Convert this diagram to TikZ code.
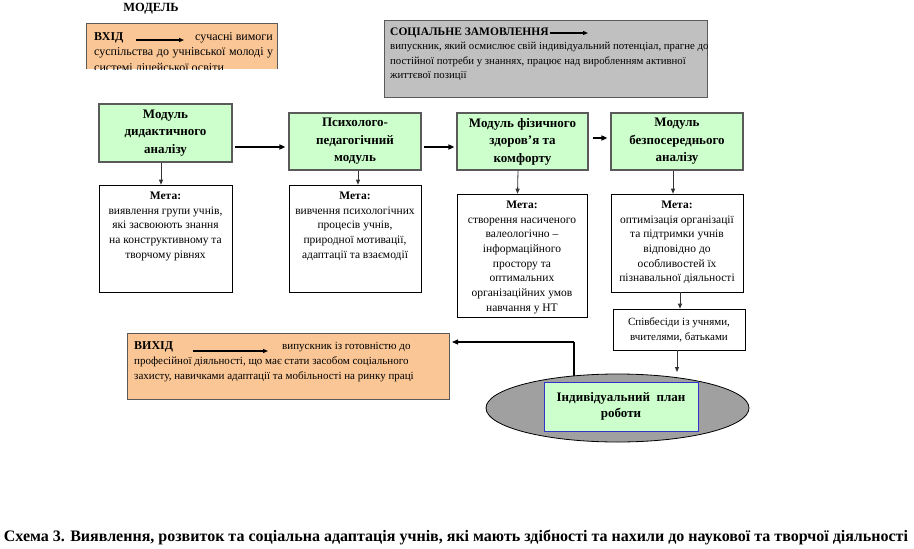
\documentclass[tikz,border=0pt]{standalone}
\usepackage{fontspec}
\setmainfont{Liberation Serif}
\usetikzlibrary{arrows.meta,calc,shapes.geometric}
\definecolor{orangefill}{RGB}{250,198,150}
\definecolor{grayfill}{RGB}{192,192,192}
\definecolor{greenfill}{RGB}{204,255,204}
\definecolor{ellfill}{RGB}{160,160,160}
\definecolor{edgegray}{RGB}{90,90,90}
\definecolor{innerblue}{RGB}{51,51,204}
\begin{document}
\begin{tikzpicture}[x=1pt,y=-1pt,
  modbox/.style={draw=edgegray,line width=1.2pt,fill=greenfill,inner sep=0pt,align=center,font=\fontsize{13}{17.5}\selectfont\bfseries},
  metabox/.style={draw=black,line width=0.6pt,fill=white,inner sep=0pt},
  metatext/.style={anchor=north,align=center,inner sep=0pt,font=\fontsize{11.5}{14.7}\selectfont},
  plain/.style={anchor=west,inner sep=0pt,font=\fontsize{11}{14}\selectfont},
  thickarr/.style={-{Triangle[length=6pt,width=5pt]},line width=1.6pt},
  downarr/.style={-{Triangle[length=5pt,width=4pt]},line width=0.8pt,draw=black!80},
  textarr/.style={-{Triangle[length=5pt,width=4pt]},line width=1.1pt}
]
\useasboundingbox (0,0) rectangle (914,549);
\fill[white] (0,0) rectangle (914,549);

% title
\node[inner sep=0pt,font=\fontsize{12.5}{14}\selectfont\bfseries] (title) at (151,9) {МОДЕЛЬ};

% input box
\node[fill=orangefill,minimum width=190pt,minimum height=45pt,inner sep=0pt] (inbox) at (182,46.5) {};
\draw[line width=0.8pt,edgegray] (inbox.south west) -- (inbox.north west) -- (inbox.north east) -- (inbox.south east);
\begin{scope}
\clip (inbox.south west) rectangle (inbox.north east);
\node[plain,anchor=base west,font=\fontsize{12}{14}\selectfont\bfseries] (intitle) at (94,40) {ВХІД};
\node[plain,anchor=base west,font=\fontsize{12}{14}\selectfont] (intext1) at (195,40) {сучасні вимоги};
\node[plain,anchor=base west,font=\fontsize{12}{14}\selectfont] (intext2) at (94,55.7) {\makebox[179pt][s]{суспільства до учнівської молоді у}};
\node[plain,anchor=base west,font=\fontsize{12}{14}\selectfont] (intext3) at (94,71.4) {системі ліцейської освіти};
\end{scope}
\coordinate (ia1) at (136,40);
\coordinate (ia2) at (184,40);
\draw[textarr] (ia1) -- (ia2);

% social order box
\node[draw=edgegray,line width=0.8pt,fill=grayfill,minimum width=323pt,minimum height=77pt,inner sep=0pt] (social) at (545.5,58.5) {};
\node[plain,font=\fontsize{11.5}{14}\selectfont\bfseries] (soctitle) at (390,33) {СОЦІАЛЬНЕ ЗАМОВЛЕННЯ};
\coordinate (sa1) at (550,33);
\coordinate (sa2) at (588,33);
\draw[textarr] (sa1) -- (sa2);
\node[plain,anchor=north west,align=left,font=\fontsize{10.8}{14.5}\selectfont] (soctext) at (390,42) {випускник, який осмислює свій індивідуальний потенціал, прагне до\\постійної потреби у знаннях, працює над виробленням активної\\життєвої позиції};

% modules
\node[modbox,minimum width=133pt,minimum height=58pt] (m1) at (165.5,133) {Модуль\\дидактичного\\аналізу};
\node[modbox,minimum width=132pt,minimum height=57pt] (m2) at (355,141.5) {Психолого-\\педагогічний\\модуль};
\node[modbox,minimum width=131pt,minimum height=57pt] (m3) at (522.5,141.5) {Модуль фізичного\\здоров’я та\\комфорту};
\node[modbox,minimum width=132pt,minimum height=57pt] (m4) at (677,141.5) {Модуль\\безпосереднього\\аналізу};

\draw[thickarr] ([xshift=2pt,yshift=-14pt]m1.east) -- ([xshift=-3pt,yshift=-14pt]m1.east -| m2.west);
\draw[thickarr] ([xshift=2pt,yshift=-5.5pt]m2.east) -- ([xshift=-2pt,yshift=-5.5pt]m2.east -| m3.west);
\draw[thickarr] ([xshift=4pt,yshift=3.5pt]m3.east) -- ([xshift=-3pt,yshift=3.5pt]m3.east -| m4.west);

% goal boxes
\node[metabox,minimum width=133pt,minimum height=107pt] (g1) at (165.5,238.5) {};
\node[metabox,minimum width=132pt,minimum height=107pt] (g2) at (355,238.5) {};
\node[metabox,minimum width=130pt,minimum height=123pt] (g3) at (522,255.5) {};
\node[metabox,minimum width=132pt,minimum height=98pt] (g4) at (677,243) {};

\node[metatext] (t1) at ([yshift=-7pt]g1.north) {\textbf{Мета:}\\виявлення групи учнів,\\які засвоюють знання\\на конструктивному та\\творчому рівнях};
\node[metatext] (t2) at ([yshift=-7pt]g2.north) {\textbf{Мета:}\\вивчення психологічних\\процесів учнів,\\природної мотивації,\\адаптації та взаємодії};
\node[metatext] (t3) at ([yshift=-7pt]g3.north) {\textbf{Мета:}\\створення насиченого\\валеологічно –\\інформаційного\\простору та\\оптимальних\\організаційних умов\\навчання у НТ};
\node[metatext] (t4) at ([yshift=-7pt]g4.north) {\textbf{Мета:}\\оптимізація організації\\та підтримки учнів\\відповідно до\\особливостей їх\\пізнавальної діяльності};

\draw[downarr] ([xshift=-4.5pt]m1.south) -- ([xshift=-4.5pt]g1.north);
\draw[downarr] ([xshift=3pt]m2.south) -- ([xshift=3pt]g2.north);
\draw[downarr] ([xshift=-4.5pt]m3.south) -- ([xshift=-4.5pt]g3.north);
\draw[downarr] ([xshift=-4pt]m4.south) -- ([xshift=-4pt]g4.north);

% interviews
\node[metabox,minimum width=132pt,minimum height=41pt,align=center,font=\fontsize{11}{15}\selectfont] (talk) at (679,329.5) {Співбесіди із учнями,\\вчителями, батьками};
\draw[downarr] ([xshift=3pt]g4.south) -- ([xshift=3pt]g4.south |- talk.north);

% output box
\node[draw=edgegray,line width=0.8pt,fill=orangefill,minimum width=322pt,minimum height=66pt,inner sep=0pt] (vyhid) at (288,366) {};
\node[plain,font=\fontsize{12}{14}\selectfont\bfseries] (vtitle) at (134,347) {ВИХІД};
\coordinate (va1) at (193,351);
\coordinate (va2) at (268,351);
\draw[textarr] (va1) -- (va2);
\node[plain] (vtext1) at (282,347) {випускник із готовністю до};
\node[plain] (vtext2) at (134,362) {професійної діяльності, що має стати засобом соціального};
\node[plain] (vtext3) at (134,377) {захисту, навичками адаптації та мобільності на ринку праці};

% connector from ellipse to output
\coordinate (c1) at (574,342);
\coordinate (c2) at (452,342);
\draw[line width=2.2pt] (c1) -- ([xshift=6pt]c2);
\draw[-{Triangle[length=6pt,width=5pt]},line width=1pt] ([xshift=6pt]c2) -- (c2);

% ellipse
\draw[line width=2.2pt] (c1) -- (574,400);
\node[ellipse,draw=black,line width=0.8pt,fill=ellfill,minimum width=263pt,minimum height=68pt,inner sep=0pt] (ell) at (617.5,408) {};
\node[draw=innerblue,line width=1pt,fill=greenfill,minimum width=154pt,minimum height=49pt,inner sep=0pt,align=center,font=\fontsize{13}{16}\selectfont\bfseries] (plan) at (621,406.5) {Індивідуальний\ \ план\\роботи};
\draw[downarr] ([xshift=-2pt]talk.south) -- ([xshift=-2pt]talk.south |- 0,372);

% caption
\node[inner sep=0pt,font=\fontsize{16}{18}\selectfont\bfseries] (caption) at (456,537) {Схема 3. Виявлення, розвиток та соціальна адаптація учнів, які мають здібності та нахили до наукової та творчої діяльності};
\end{tikzpicture}
\end{document}
